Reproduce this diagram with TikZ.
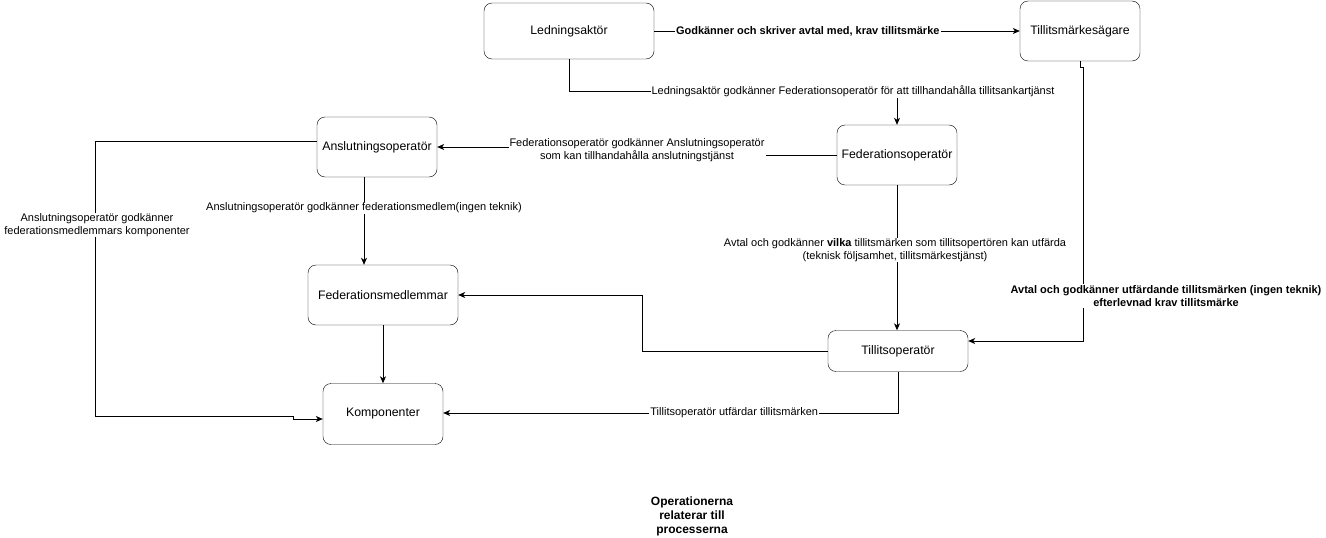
\documentclass[tikz,border=0pt]{standalone}
\usepackage{fontspec}
\setmainfont{Liberation Sans}
\usetikzlibrary{arrows.meta}
\begin{document}
\begin{tikzpicture}[x=1pt,y=-1pt,
  box/.style={draw, rounded corners=8pt, align=center, font=\fontsize{12.3}{14}\selectfont, inner sep=0pt},
  conn/.style={draw, line width=0.9pt, -{Stealth[length=7pt,width=6pt,inset=2pt]}},
  lab/.style={fill=white, inner sep=1pt, align=center, font=\fontsize{11}{12.5}\selectfont},
  blab/.style={lab, font=\fontsize{11}{13.5}\selectfont\bfseries}]
\useasboundingbox[fill=white] (0,0) rectangle (1326,538);

\node[box, minimum width=170pt, minimum height=56pt] (led) at (569,31) {Ledningsaktör};
\node[box, minimum width=120pt, minimum height=60pt] (tma) at (1080,31) {Tillitsmärkesägare};
\node[box, minimum width=120pt, minimum height=60pt] (fed) at (897,155) {Federationsoperatör};
\node[box, minimum width=120pt, minimum height=60pt] (ans) at (377,147) {Anslutningsoperatör};
\node[box, minimum width=150pt, minimum height=60pt] (fm) at (383,295) {Federationsmedlemmar};
\node[box, minimum width=140pt, minimum height=41pt] (tio) at (898,351) {Tillitsoperatör};
\node[box, minimum width=120pt, minimum height=61pt] (kom) at (383,414) {Komponenter};

\node[font=\fontsize{12}{14}\selectfont\bfseries, align=center] (note) at (692,516) {Operationerna\\relaterar till\\processerna};

% 1
\draw[conn] (led.east) -- node[blab, pos=0.42] {Godkänner och skriver avtal med, krav tillitsmärke} (tma.west);
% 2
\draw[conn] (led.south) -- (569,91) -- (897,91) -- (fed.north);
\node[lab] (l2) at (853,91) {Ledningsaktör godkänner Federationsoperatör för att tillhandahålla tillitsankartjänst};
% 3
\draw[conn] (fed.west) -- (637,155) -- (637,147) -- (ans.east);
\node[lab] (l3) at (637,150) {Federationsoperatör godkänner Anslutningsoperatör\\som kan tillhandahålla anslutningstjänst};
% 4
\draw[conn] (ans.south -| 364,0) -- node[lab, pos=0.35] {Anslutningsoperatör godkänner federationsmedlem(ingen teknik)} (fm.north -| 364,0);
% 5
\draw[conn] (ans.west |- 0,141) -- (95,141) -- (95,416) -- (293,416) -- (293,419) -- (kom.west |- 0,419);
\node[lab] (l5) at (97,225) {Anslutningsoperatör godkänner\\federationsmedlemmars komponenter};
% 6
\draw[conn] (fm.south) -- (kom.north);
% 7
\draw[conn] (fed.south) -- (tio.north -| fed.south);
\node[lab] (l7) at (895,250) {Avtal och godkänner \textbf{vilka} tillitsmärken som tillitsopertören kan utfärda\\(teknisk följsamhet, tillitsmärkestjänst)};
% 8
\draw[conn] (tma.south) -- (1080,67) -- (1083,67) -- (1083,341) -- (tio.east |- 0,341);
\node[blab] (l8) at (1166,296) {Avtal och godkänner utfärdande tillitsmärken (ingen teknik)\\efterlevnad krav tillitsmärke};
% 9
\draw[conn] (tio.west) -- (642,351) -- (642,295) -- (fm.east);
% 10
\draw[conn] (tio.south) -- (898,413) -- node[lab, pos=0.36] {Tillitsoperatör utfärdar tillitsmärken} (kom.east |- 0,413);
\end{tikzpicture}
\end{document}
